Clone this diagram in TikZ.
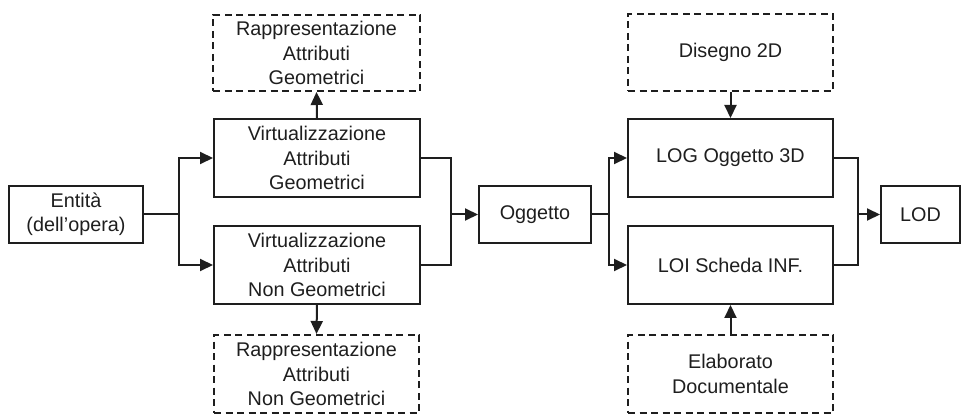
\documentclass[tikz,border=0pt]{standalone}
\usepackage{fontspec}
\setmainfont{Liberation Sans}
\usetikzlibrary{arrows.meta}
\definecolor{ink}{HTML}{1E1E1E}
\begin{document}
\begin{tikzpicture}[x=1pt,y=-1pt,
  every node/.style={font=\fontsize{19.8}{24.5}\selectfont, text=ink, align=center, inner sep=0pt},
  solidbox/.style={draw=ink, line width=2pt, rectangle},
  dashbox/.style={draw=ink, line width=2pt, rectangle, dash pattern=on 7pt off 4.5pt},
  link/.style={draw=ink, line width=2pt},
  arr/.style={link, -{Triangle[length=13pt,width=12pt]}}]
\useasboundingbox (0,0) rectangle (962,414);

% left column
\node[solidbox, minimum width=134pt, minimum height=57pt] (ent) at (76,214.5) {Entità\\(dell’opera)};

% virtualisation of attributes
\node[solidbox, minimum width=206pt, minimum height=78pt] (vg) at (317,158) {Virtualizzazione\\Attributi\\Geometrici};
\node[solidbox, minimum width=206pt, minimum height=78pt] (vng) at (317,265) {Virtualizzazione\\Attributi\\Non Geometrici};

% representations
\node[dashbox, minimum width=207pt, minimum height=76pt] (rg) at (316.5,53) {Rappresentazione\\Attributi\\Geometrici};
\node[dashbox, minimum width=205pt, minimum height=78pt] (rng) at (316.5,374) {Rappresentazione\\Attributi\\Non Geometrici};

% object
\node[solidbox, minimum width=112pt, minimum height=57pt] (ogg) at (535,214.5) {Oggetto};

% levels of geometry / information
\node[solidbox, minimum width=205pt, minimum height=78pt] (log) at (730.5,158) {LOG Oggetto 3D};
\node[solidbox, minimum width=205pt, minimum height=78pt] (loi) at (730.5,265) {LOI Scheda INF.};
\node[dashbox, minimum width=205pt, minimum height=77pt] (dis) at (730.5,52.5) {Disegno 2D};
\node[dashbox, minimum width=205pt, minimum height=78pt] (ela) at (730.5,374) {Elaborato\\Documentale};

% level of development
\node[solidbox, minimum width=79pt, minimum height=57pt] (lod) at (920.5,214.5) {LOD};

% junction points
\coordinate (j1) at (179,214.5);
\coordinate (j2) at (451,214.5);
\coordinate (j3) at (609,214.5);
\coordinate (j4) at (858,214.5);

% split after the entity
\draw[link] (ent.east) -- (j1);
\draw[arr] (j1) |- (vg.west);
\draw[arr] (j1) |- (vng.west);

% virtualisation to representation
\draw[arr] (vg.north) -- (rg.south);
\draw[arr] (vng.south) -- (rng.north);

% merge into the object
\draw[link] (vg.east) -| (j2);
\draw[link] (vng.east) -| (j2);
\draw[arr] (j2) -- (ogg.west);

% split after the object
\draw[link] (ogg.east) -- (j3);
\draw[arr] (j3) |- (log.west);
\draw[arr] (j3) |- (loi.west);

% documents feeding the levels
\draw[arr] (dis.south) -- (log.north);
\draw[arr] (ela.north) -- (loi.south);

% merge into LOD
\draw[link] (log.east) -| (j4);
\draw[link] (loi.east) -| (j4);
\draw[arr] (j4) -- (lod.west);
\end{tikzpicture}
\end{document}
